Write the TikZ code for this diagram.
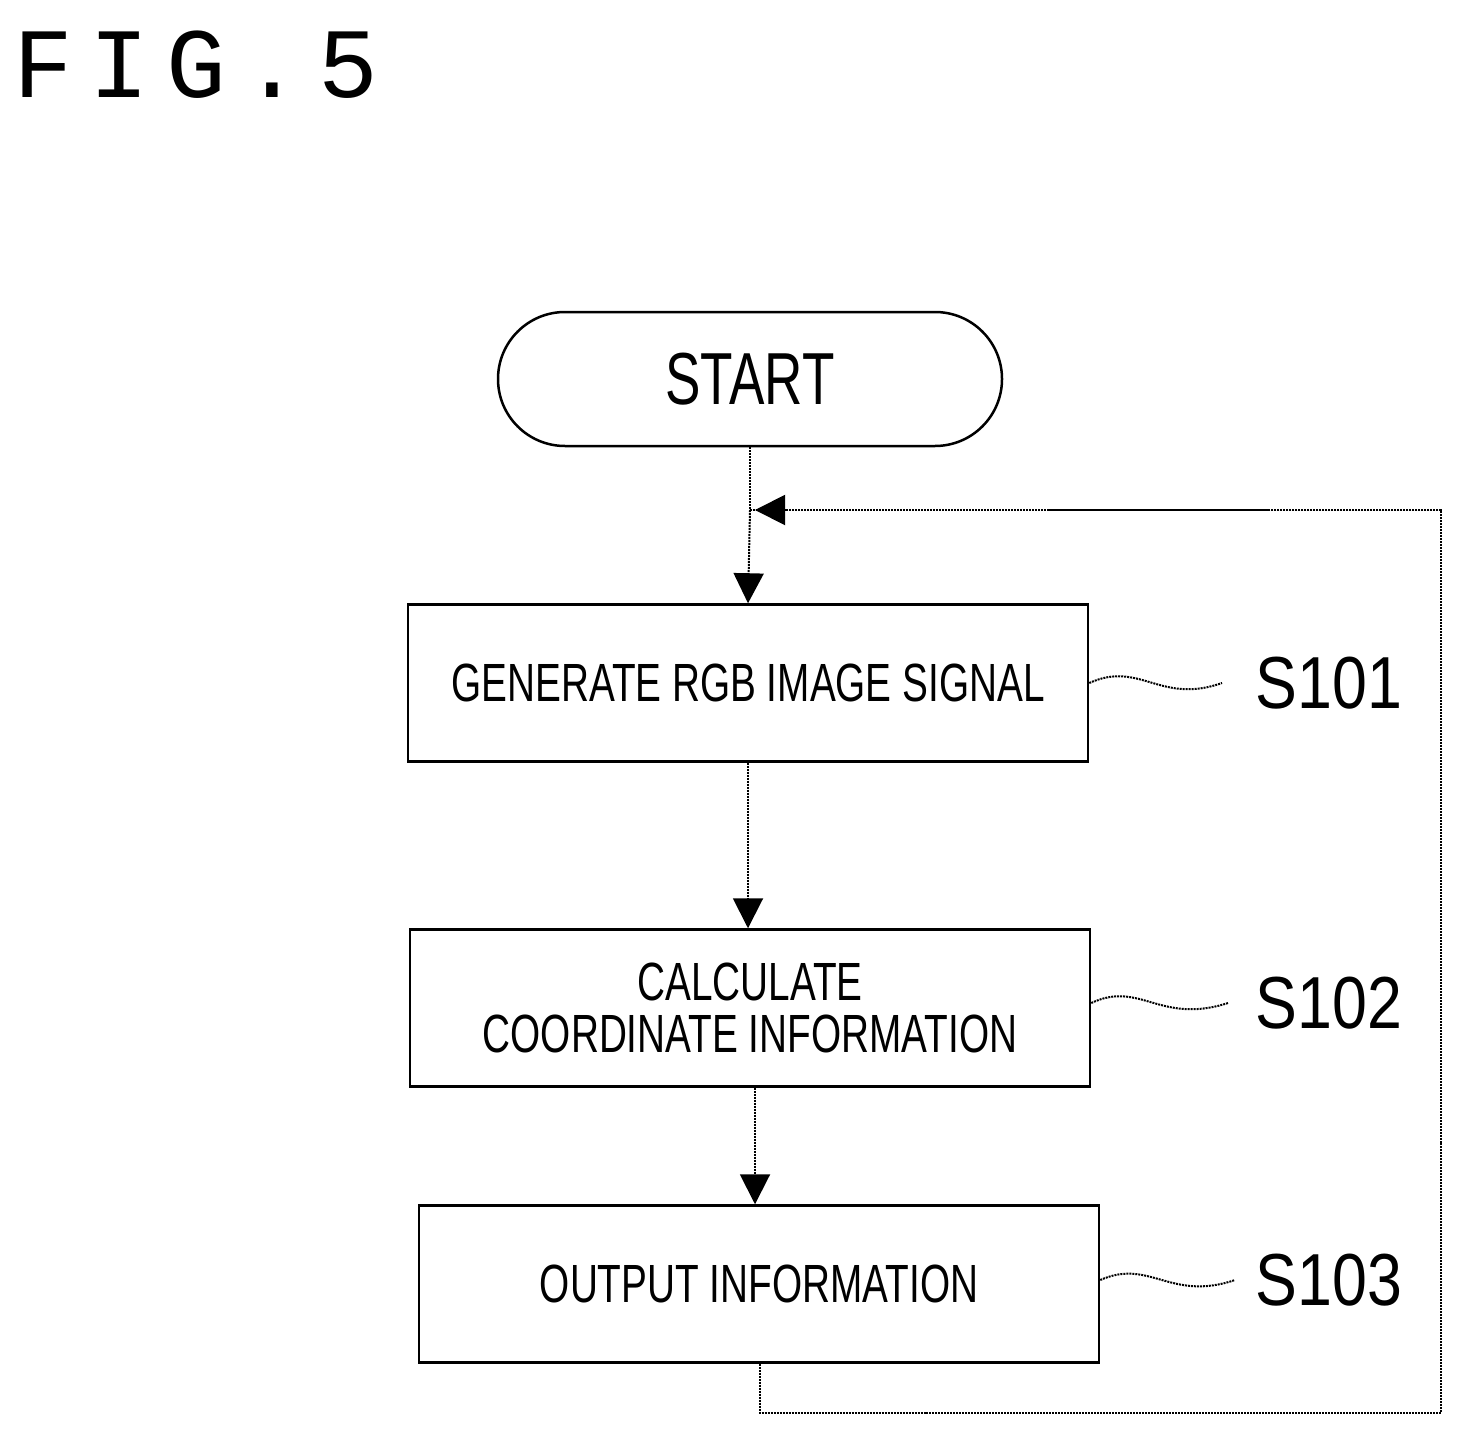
\documentclass[tikz,border=0pt]{standalone}
\usepackage{fontspec}
\setmainfont{Liberation Sans}
\newfontfamily\monof{Liberation Mono}
\usetikzlibrary{arrows.meta}
\newcommand{\nar}[1]{\scalebox{0.72}[1]{#1}}
\begin{document}
\begin{tikzpicture}[x=1bp,y=-1bp,
  box/.style={draw,line width=2.5bp,minimum width=680bp,minimum height=157bp,inner sep=0pt,align=center,font=\fontsize{54}{60}\selectfont},
  lbl/.style={font=\fontsize{74}{80}\selectfont},
  arr/.style={line width=2bp,densely dotted,-{Triangle[length=30bp,width=30bp]}},
  ln/.style={line width=2bp,densely dotted}]
\useasboundingbox (0,0) rectangle (1463,1449);
\node[font=\monof\fontsize{100}{100}\selectfont,anchor=west] (fig) at (10,65) {F\,I\,G\,.\,5};
\node[draw,line width=2.5bp,rounded corners=67bp,minimum width=504bp,minimum height=134bp,font=\fontsize{74}{80}\selectfont] (start) at (750,379) {\nar{START}};
\node[box] (s1) at (748,683) {\nar{GENERATE RGB IMAGE SIGNAL}};
\node[box] (s2) at (750,1008) {\nar{CALCULATE}\\[-8bp]\nar{COORDINATE INFORMATION}};
\node[box] (s3) at (759,1284) {\nar{OUTPUT INFORMATION}};
\node[lbl,anchor=west] (l1) at (1252,683) {\scalebox{0.85}[1]{S101}};
\node[lbl,anchor=west] (l2) at (1252,1003) {\scalebox{0.85}[1]{S102}};
\node[lbl,anchor=west] (l3) at (1252,1280) {\scalebox{0.85}[1]{S103}};
\coordinate (j) at (750,510);
\coordinate (b) at (760,1413);
\coordinate (c) at (1441,1413);
\coordinate (d) at (1441,510);
\coordinate (w1) at (1222,683);
\coordinate (w2) at (1228,1003);
\coordinate (w3) at (1235,1280);
\draw[ln] (start.south) -- (j);
\draw[arr] (j) -- (s1.north);
\draw[arr] (s1.south) -- (s2.north -| s1.south);
\draw[arr] (s2.south -| 755,0) -- (s3.north -| 755,0);
\draw[ln] (b |- s3.south) -- (b) -- (c) -- (d) -- (j);
\draw[line width=2bp,densely dotted,-{Triangle[length=30bp,width=30bp]}] (d) -- (755,510);
\draw[ln] (s1.east) .. controls (1140,660) and (1160,705) .. (w1);
\draw[ln] (s2.east |- 0,1003) .. controls (1140,980) and (1160,1025) .. (w2);
\draw[ln] (s3.east |- 0,1280) .. controls (1150,1258) and (1170,1302) .. (w3);
\end{tikzpicture}
\end{document}
